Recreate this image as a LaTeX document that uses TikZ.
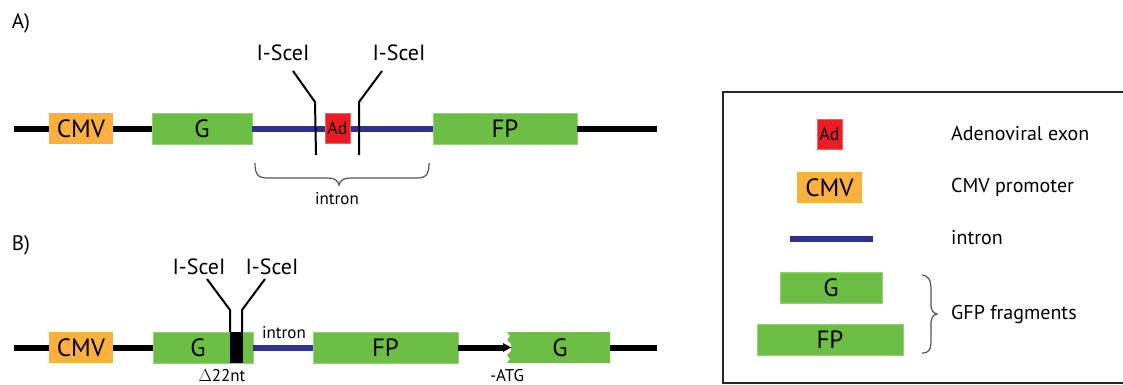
\documentclass[tikz,border=0pt]{standalone}
\usepackage{fontspec}
\setmainfont{PT Sans}
\definecolor{gfpgreen}{RGB}{108,190,69}
\definecolor{gfpedge}{RGB}{150,210,120}
\definecolor{cmvorange}{RGB}{251,176,64}
\definecolor{adred}{RGB}{237,28,36}
\definecolor{intronblue}{RGB}{46,49,146}
\definecolor{bracegray}{RGB}{85,85,85}
\tikzset{
  seg/.style={inner sep=0pt, anchor=center, text=black},
  gfpbox/.style={seg, fill=gfpgreen, draw=gfpedge, line width=0.6pt, font=\fontsize{25}{25}\selectfont},
  cmvbox/.style={seg, fill=cmvorange, minimum width=64pt, minimum height=31pt, font=\fontsize{25}{25}\selectfont},
  adbox/.style={seg, fill=adred, draw=adred!70!white, line width=0.6pt, minimum width=25pt, minimum height=30pt, font=\fontsize{18}{18}\selectfont},
  backbone/.style={line width=6pt, black},
  intronline/.style={line width=6pt, intronblue},
  siteline/.style={line width=2pt, black},
  sitelabel/.style={inner sep=0pt, font=\fontsize{22}{22}\selectfont},
  smalllabel/.style={inner sep=0pt, font=\fontsize{17}{17}\selectfont},
  legendlabel/.style={inner sep=0pt, anchor=west, font=\fontsize{20}{20}\selectfont},
  panellabel/.style={inner sep=0pt, font=\fontsize{21}{21}\selectfont},
  bracepath/.style={line width=1.2pt, bracegray},
}
\begin{document}
\begin{tikzpicture}[x=1pt,y=-1pt]
\useasboundingbox (0,0) rectangle (1123,385);
\clip (0,0) rectangle (1123,385);

% ---------- construct A ----------
\node[panellabel] (labA) at (21,23) {A)};
\coordinate (Astart) at (14,128.5);
\coordinate (Aend) at (657,128.5);
\node[cmvbox] (cmvA) at (81,128.5) {CMV};
\node[gfpbox, minimum width=100pt, minimum height=31pt] (gA) at (202,128.5) {G};
\node[gfpbox, minimum width=144pt, minimum height=31pt] (fpA) at (505,128.5) {FP};
\draw[backbone] (Astart) -- (cmvA.west);
\draw[backbone] (cmvA.east) -- (gA.west);
\draw[intronline] (gA.east) -- (fpA.west);
\draw[backbone] (fpA.east) -- (Aend);
\node[adbox] (adA) at (337.5,128) {Ad};

% I-SceI sites flanking the adenoviral exon
\node[sitelabel] (sceA1) at (283,53) {I-SceI};
\node[sitelabel] (sceA2) at (399,53) {I-SceI};
\coordinate (sA1a) at (293,71);
\coordinate (sA1b) at (315,102);
\coordinate (sA1c) at (316,155);
\coordinate (sA2a) at (382,71);
\coordinate (sA2b) at (359,102);
\coordinate (sA2c) at (359,155);
\draw[siteline] (sA1a) -- (sA1b) -- (sA1c);
\draw[siteline] (sA2a) -- (sA2b) -- (sA2c);

% intron brace
\draw[bracepath] (255,163) .. controls (255,175) and (258,178) .. (268,178)
  -- (327,178) .. controls (334,178) and (338,180) .. (339,185)
  .. controls (340,180) and (344,178) .. (351,178)
  -- (416,178) .. controls (426,178) and (429,175) .. (429,163);
\node[smalllabel] (intronA) at (337,199) {intron};

% ---------- construct B ----------
\node[panellabel] (labB) at (21,245) {B)};
\coordinate (Bstart) at (14,347.5);
\coordinate (Bend) at (657,347.5);
\node[cmvbox] (cmvB) at (81,347.5) {CMV};
\node[gfpbox, minimum width=100pt, minimum height=31pt] (gB) at (203,347.5) {\hspace*{-10pt}G};
\node[gfpbox, minimum width=145pt, minimum height=31pt] (fpB) at (385.5,347.5) {FP};
\draw[backbone] (Bstart) -- (cmvB.west);
\draw[backbone] (cmvB.east) -- (gB.west);
\draw[intronline] (gB.east) -- (fpB.west);
\node[smalllabel] (intronB) at (284,333) {intron};

% deleted stretch inside G
\node[seg, fill=black, minimum width=13pt, minimum height=31pt] (del) at (236.5,347.5) {};
\node[smalllabel, anchor=north] (delta) at (222,369.5) {$\Delta$22nt};

% I-SceI sites around the deletion
\node[sitelabel] (sceB1) at (199,267) {I-SceI};
\node[sitelabel] (sceB2) at (272,267) {I-SceI};
\coordinate (sB1a) at (207,279);
\coordinate (sB1b) at (230,310);
\coordinate (sB2a) at (265,279);
\coordinate (sB2b) at (242,310);
\draw[siteline] (sB1a) -- (sB1b) -- (sB1b |- del.north);
\draw[siteline] (sB2a) -- (sB2b) -- (sB2b |- del.north);

% truncated G fragment with a ragged left end
\coordinate (gtip) at (505,347.5);
\draw[backbone] (fpB.east) -- (gtip);
\fill[black] (503,343) -- (511,347.5) -- (503,352) -- cycle;
\fill[gfpgreen] (507,332) -- (610,332) -- (610,363) -- (507,363)
  -- (510,359) -- (507,355) -- (511,351) -- (511,344) -- (507,340)
  -- (510,336) -- cycle;
\node[inner sep=0pt, font=\fontsize{25}{25}\selectfont] (gB2) at (560,347.5) {G};
\coordinate (gB2e) at (610,347.5);
\draw[backbone] (gB2e) -- (Bend);
\node[smalllabel, anchor=north] (atg) at (507,369.5) {-ATG};

% ---------- legend ----------
\draw[line width=2pt, black!85] (723,92) rectangle (1135,383);
\node[adbox] (adL) at (829.5,134) {Ad};
\node[legendlabel] (adT) at (951,134) {Adenoviral exon};
\node[cmvbox, minimum width=65pt] (cmvL) at (829.5,187.5) {CMV};
\node[legendlabel] (cmvT) at (951,187) {CMV promoter};
\coordinate (inL1) at (790,238.5);
\coordinate (inL2) at (873,238.5);
\draw[intronline] (inL1) -- (inL2);
\node[legendlabel] (inT) at (951,238) {intron};
\node[gfpbox, minimum width=102pt, minimum height=31pt] (gL) at (831,288) {G};
\node[gfpbox, minimum width=146pt, minimum height=31pt] (fpL) at (830,340) {FP};
\draw[bracepath] (922,275) .. controls (929,276) and (931,280) .. (931,290)
  -- (931,305) .. controls (931,310) and (933,313) .. (937,314)
  .. controls (933,315) and (931,318) .. (931,323)
  -- (931,340) .. controls (931,350) and (929,353) .. (922,353);
\node[legendlabel] (gfpT) at (951,314) {GFP fragments};
\end{tikzpicture}
\end{document}
